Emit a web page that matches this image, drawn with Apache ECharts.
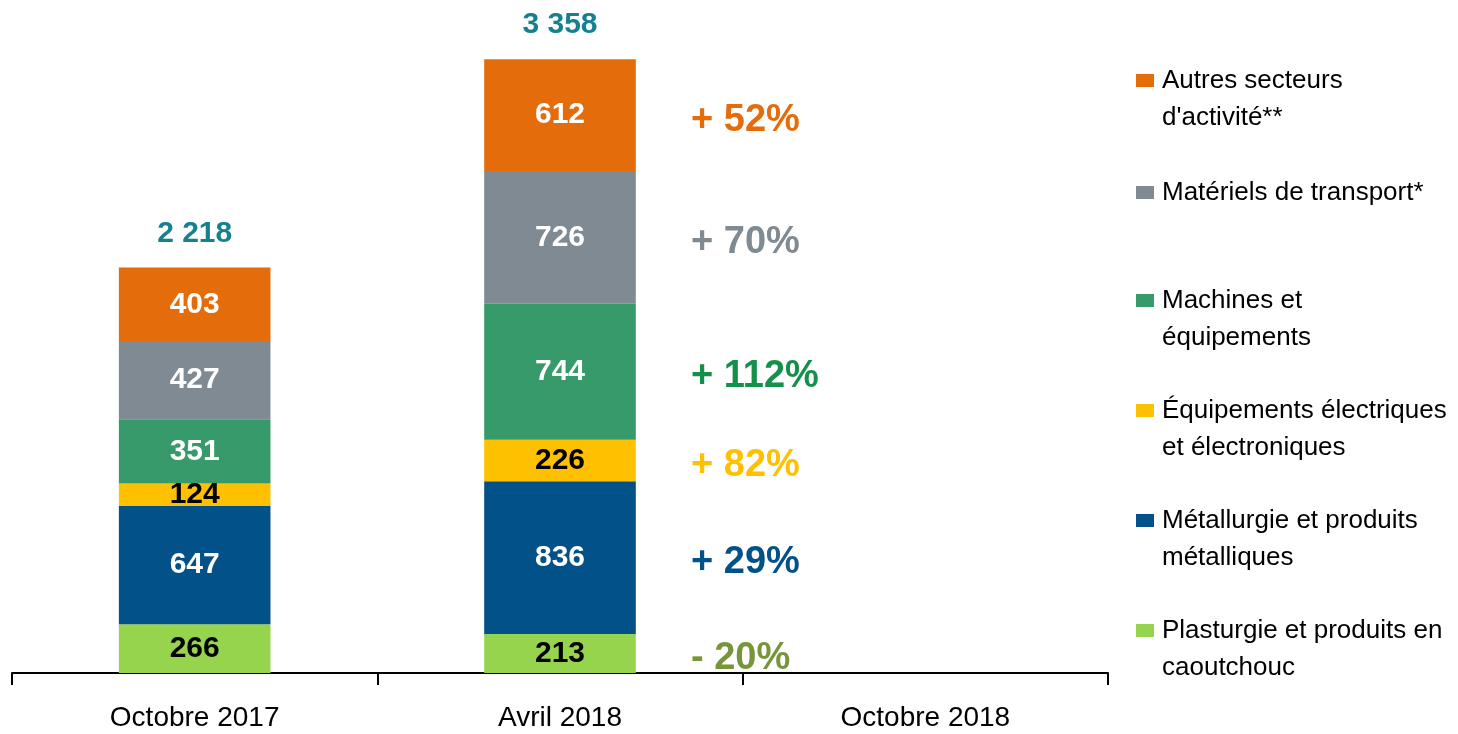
<!DOCTYPE html>
<html>
<head>
<meta charset="utf-8">
<script src="https://cdn.jsdelivr.net/npm/echarts@6/dist/echarts.min.js"></script>
<style>
    html, body { margin: 0; padding: 0; background: #fff; }
    #chart { width: 1458px; height: 734px; }
</style>
</head>
<body>
<div id="chart"></div>
<script>
    // catégories (la 3e est vide)
    var categories = ['Octobre 2017', 'Avril 2018', 'Octobre 2018'];
    // séries, du bas vers le haut de la pile
    var seriesNames = [
        'Plasturgie et produits en\ncaoutchouc',
        'Métallurgie et produits\nmétalliques',
        'Équipements électriques\net électroniques',
        'Machines et\néquipements',
        'Matériels de transport*',
        'Autres secteurs\nd\'activité**'
    ];
    var plasturgie  = [266, 213, null];
    var metallurgie = [647, 836, null];
    var electrique  = [124, 226, null];
    var machines    = [351, 744, null];
    var transport   = [427, 726, null];
    var autres      = [403, 612, null];
    var totals      = [2218, 3358, null];
    // évolutions affichées à droite d'Avril 2018
    var evolutions  = ['- 20%', '+ 29%', '+ 82%', '+ 112%', '+ 70%', '+ 52%'];

    var seriesData  = [plasturgie, metallurgie, electrique, machines, transport, autres];
    var barColors   = ['#97d44e', '#035189', '#ffc000', '#379a6a', '#7f8a93', '#e46c0a'];
    var labelColors = ['#000', '#fff', '#000', '#fff', '#fff', '#fff'];
    var evoColors   = ['#77963c', '#035189', '#ffc000', '#14904a', '#7f8a93', '#e46c0a'];
    var legendY     = [630, 520, 410, 300, 192, 80];

    var font = "'Liberation Sans Narrow', 'Arial Narrow', 'Liberation Sans', Arial, sans-serif";

    function fmt(v) {
        return String(v).replace(/\B(?=(\d{3})+(?!\d))/g, ' ');
    }

    var series = [];
    seriesData.forEach(function (d, i) {
        series.push({
            name: seriesNames[i],
            type: 'bar',
            stack: 'total',
            barWidth: '41.5%',
            itemStyle: { color: barColors[i] },
            label: {
                show: true,
                position: 'inside',
                color: labelColors[i],
                fontFamily: font,
                fontWeight: 'bold',
                fontSize: 30,
                formatter: function (p) { return p.value == null ? '' : p.value; }
            },
            data: d
        });
    });

    // totaux au-dessus des barres
    series.push({
        type: 'scatter',
        symbolSize: 0,
        silent: true,
        itemStyle: { opacity: 1 },
        label: {
            show: true,
            position: 'top',
            distance: 19,
            color: '#15818f',
            fontFamily: font,
            fontWeight: 'bold',
            fontSize: 30,
            formatter: function (p) { return fmt(p.value[1]); }
        },
        data: totals.map(function (t, i) { return t == null ? null : [i, t]; }).filter(function (x) { return x; })
    });

    // évolutions : point au milieu de chaque segment d'Avril 2018
    var evoData = [];
    var cum = 0;
    seriesData.forEach(function (d, i) {
        var mid = cum + d[1] / 2;
        cum += d[1];
        evoData.push({
            value: [1, mid],
            label: { color: evoColors[i], formatter: evolutions[i] }
        });
    });
    series.push({
        type: 'scatter',
        symbolSize: 0,
        silent: true,
        itemStyle: { opacity: 1 },
        label: {
            show: true,
            position: 'right',
            distance: 131,
            offset: [0, 5],
            fontFamily: font,
            fontWeight: 'bold',
            fontSize: 38
        },
        data: evoData
    });

    // légende à droite
    var graphics = [];
    seriesNames.forEach(function (n, i) {
        graphics.push({
            type: 'rect',
            left: 1136,
            top: legendY[i] - 6,
            shape: { width: 18, height: 13 },
            style: { fill: barColors[i] }
        });
        graphics.push({
            type: 'text',
            left: 1162,
            top: legendY[i] - 18,
            style: {
                text: n,
                fill: '#000',
                font: '26px ' + font,
                lineHeight: 37
            }
        });
    });

    var myChart = echarts.init(document.getElementById('chart'));
    myChart.setOption({
        animation: false,
        grid: {
            left: 12,
            right: 350,
            top: 33,
            bottom: 61
        },
        xAxis: {
            type: 'category',
            data: categories,
            axisLine: { lineStyle: { color: '#000', width: 2 } },
            axisTick: { show: true, length: 12, lineStyle: { color: '#000', width: 2 } },
            axisLabel: {
                color: '#000',
                fontFamily: font,
                fontSize: 28,
                margin: 31
            }
        },
        yAxis: {
            type: 'value',
            min: 0,
            max: 3500,
            show: false,
            splitLine: { show: false }
        },
        graphic: graphics,
        series: series
    });
</script>
</body>
</html>
